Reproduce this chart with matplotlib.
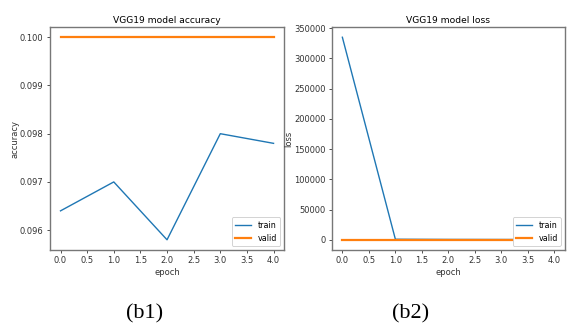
import numpy as np
import matplotlib
matplotlib.use('Agg')
import matplotlib.pyplot as plt

epochs = [0, 1, 2, 3, 4]
acc_train = [0.0964, 0.0970, 0.0958, 0.0980, 0.0978]
acc_valid = [0.1000, 0.1000, 0.1000, 0.1000, 0.1000]
loss_train = [335000, 1200, 900, 800, 700]
loss_valid = [300, 300, 300, 300, 300]

fig = plt.figure(figsize=(5.73, 3.35), dpi=100)
ax1 = fig.add_axes([0.087, 0.254, 0.409, 0.665])
ax2 = fig.add_axes([0.579, 0.254, 0.407, 0.665])

panels = [
    (ax1, acc_train, acc_valid, 'VGG19 model accuracy', 'accuracy', '(b1)', 0.253),
    (ax2, loss_train, loss_valid, 'VGG19 model loss', 'loss', '(b2)', 0.716),
]
for ax, tr, va, title, ylabel, cap, cx in panels:
    ax.plot(epochs, tr, color='#1f77b4', linewidth=1.0, label='train')
    ax.plot(epochs, va, color='#ff7f0e', linewidth=1.6, label='valid')
    ax.set_title(title, fontsize=6.6, pad=3)
    ax.set_ylabel(ylabel, fontsize=6, color='#333333', labelpad=0.5)
    ax.set_xlabel('epoch', fontsize=6, color='#333333', labelpad=2)
    ax.tick_params(labelsize=6, length=2.5, width=0.6, colors='#333333', pad=2)
    ax.set_xticks(np.arange(0, 4.5, 0.5))
    for s in ax.spines.values():
        s.set_color('#777777')
        s.set_linewidth(1.0)
    leg = ax.legend(loc='lower right', fontsize=5.8, handlelength=2.0,
                    borderpad=0.4, labelspacing=0.5, framealpha=1.0)
    leg.get_frame().set_linewidth(0.6)
    # caption below each panel
    fig.text(cx, 0.035, cap, ha='center', va='bottom',
             fontsize=16, family='Liberation Serif')

ax1.set_yticks([0.096, 0.097, 0.098, 0.099, 0.100])
ax1.set_yticklabels(['0.096', '0.097', '0.098', '0.099', '0.100'])
ax2.set_yticks(np.arange(0, 350001, 50000))

fig.savefig('out.png', dpi=100)
